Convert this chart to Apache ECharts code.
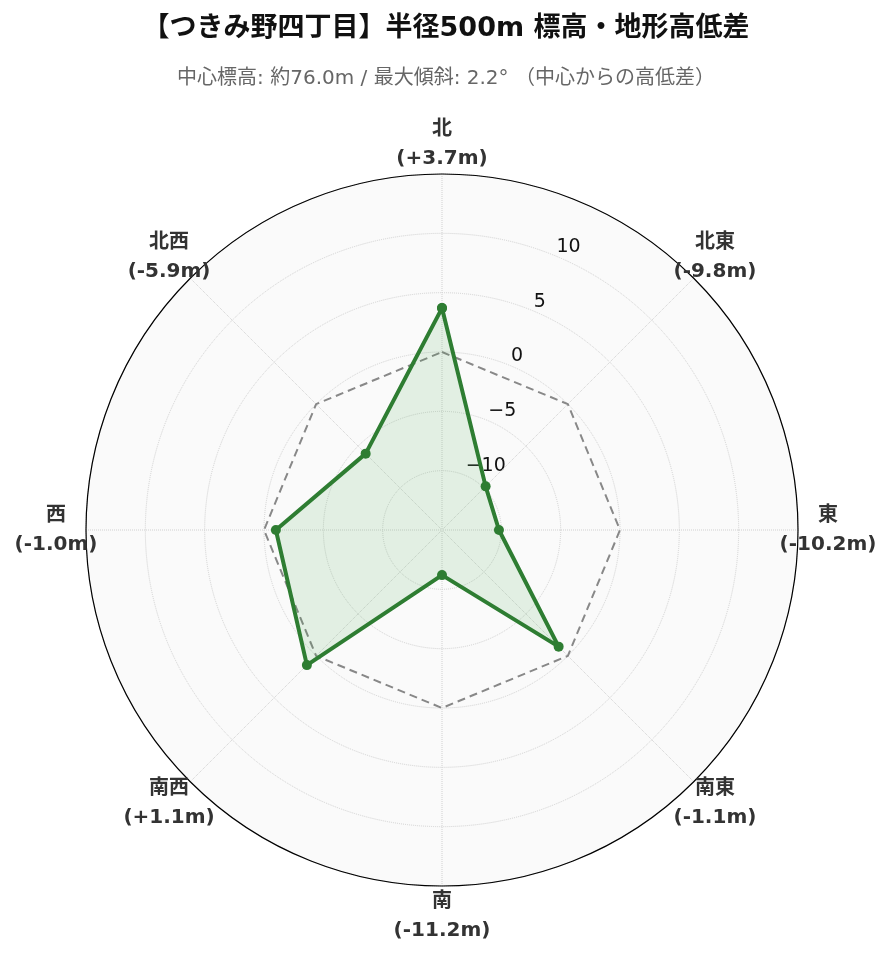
<!DOCTYPE html>
<html>
<head>
<meta charset="utf-8">
<script src="https://cdn.jsdelivr.net/npm/echarts@6/dist/echarts.min.js"></script>
<style>
html,body{margin:0;padding:0;background:#fff;}
#main{width:892px;height:962px;}
</style>
</head>
<body>
<div id="main"></div>
<script>
// Data
const directions = ['北', '北東', '東', '南東', '南', '南西', '西', '北西'];
const angles = [0, 45, 90, 135, 180, 225, 270, 315];
const diffs = [3.7, -9.8, -10.2, -1.1, -11.2, 1.1, -1.0, -5.9];
const zeroRef = [0, 0, 0, 0, 0, 0, 0, 0];
const radialTicks = [-10, -5, 0, 5, 10];
const titleText = '【つきみ野四丁目】半径500m 標高・地形高低差';
const subText = '中心標高: 約76.0m / 最大傾斜: 2.2° （中心からの高低差）';

function fmtDiff(v) { return '(' + (v > 0 ? '+' : '') + v.toFixed(1) + 'm)'; }
function closed(vals) {
  const d = vals.map((v, i) => [v, angles[i]]);
  d.push([vals[0], 360]);
  return d;
}

const chart = echarts.init(document.getElementById('main'));
const latin = '"DejaVu Sans", "Noto Sans CJK JP", sans-serif';
const center = [442, 530];
const radius = 356;

const hiddenAngle = (idx, start) => ({
  polarIndex: idx, type: 'value', min: 0, max: 360, startAngle: start, clockwise: true,
  axisLine: { show: false }, axisTick: { show: false }, axisLabel: { show: false }, splitLine: { show: false }
});

chart.setOption({
  backgroundColor: '#ffffff',
  animation: false,
  title: [
    { text: titleText, left: 'center', top: 10,
      textStyle: { fontSize: 27, fontWeight: 'bold', color: '#111', fontFamily: latin } },
    { text: subText, left: 'center', top: 64,
      textStyle: { fontSize: 20, fontWeight: 'normal', color: '#666', fontFamily: latin } }
  ],
  polar: [
    { center: center, radius: radius },
    { center: center, radius: radius },
    { center: center, radius: 386 }
  ],
  angleAxis: [
    { polarIndex: 0, type: 'value', min: 0, max: 360, interval: 45, startAngle: 90, clockwise: true, z: 1,
      axisLine: { show: true, lineStyle: { color: '#000', width: 1.2 } },
      axisTick: { show: false },
      axisLabel: { show: false },
      splitLine: { show: true, lineStyle: { color: '#d0d0d0', type: 'dotted', width: 1 } }
    },
    hiddenAngle(1, 67.5),
    hiddenAngle(2, 90)
  ],
  radiusAxis: [
    { polarIndex: 0, type: 'value', min: -15, max: 15, interval: 5, z: 1,
      axisLine: { show: false }, axisTick: { show: false }, axisLabel: { show: false },
      splitLine: { show: true, lineStyle: { color: '#d0d0d0', type: 'dotted', width: 1 } },
      splitArea: { show: false }
    },
    { polarIndex: 1, type: 'value', min: -15, max: 15, interval: 5, z: -5,
      axisLine: { show: false }, axisTick: { show: false }, splitLine: { show: false },
      splitArea: { show: true, areaStyle: { color: ['#fafafa', '#fafafa'] } },
      axisLabel: {
        show: true, margin: -1, align: 'left', verticalAlign: 'bottom',
        fontSize: 19, color: '#111', fontFamily: latin,
        formatter: function (v) {
          if (radialTicks.indexOf(v) < 0) return '';
          return v < 0 ? '\u2212' + Math.abs(v) : String(v);
        }
      }
    },
    { polarIndex: 2, type: 'value', min: 0, max: 1,
      axisLine: { show: false }, axisTick: { show: false }, axisLabel: { show: false }, splitLine: { show: false } }
  ],
  series: [
    { type: 'line', coordinateSystem: 'polar', polarIndex: 0, data: closed(zeroRef),
      symbol: 'none', silent: true,
      lineStyle: { color: '#888', width: 2, type: [8, 5] }, z: 3 },
    { type: 'line', coordinateSystem: 'polar', polarIndex: 0, data: closed(diffs),
      symbol: 'circle', symbolSize: 10,
      itemStyle: { color: '#2e7d32' },
      lineStyle: { color: '#2e7d32', width: 4 },
      areaStyle: { color: 'rgba(76,175,80,0.19)', origin: 'start' }, z: 4 },
    { type: 'scatter', coordinateSystem: 'polar', polarIndex: 2, silent: true, clip: false,
      data: angles.map(a => [1, a]),
      symbolSize: 0,
      itemStyle: { opacity: 1 },
      label: {
        show: true, position: 'inside', align: 'center', verticalAlign: 'middle',
        fontSize: 20, fontWeight: 'bold', color: '#333', lineHeight: 29, fontFamily: latin,
        formatter: function (p) { return directions[p.dataIndex] + '\n' + fmtDiff(diffs[p.dataIndex]); }
      }, z: 5 }
  ]
});
</script>
</body>
</html>
